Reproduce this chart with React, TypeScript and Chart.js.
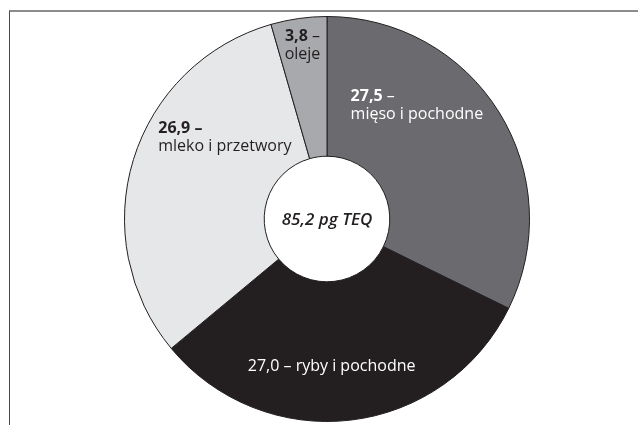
import React, { useEffect, useRef } from 'react';
import { Chart, registerables } from 'chart.js';

Chart.register(...registerables);

// ---- data ----
const categories = ['mięso i pochodne', 'ryby i pochodne', 'mleko i przetwory', 'oleje'];
const values = [27.5, 27.0, 26.9, 3.8];
const unit = 'pg TEQ';

// ---- styles ----
const sliceColors = ['#6b6b6f', '#231f20', '#e6e7e8', '#a7a9ac'];
const labelColors = ['#ffffff', '#ffffff', '#231f20', '#231f20'];
const FONT = "'Open Sans', 'Noto Sans', sans-serif";
const FONT_SIZE = 16;
const LINE_H = 18;

const fmt = (v: number) => v.toFixed(1).replace('.', ',');

type Seg = { t: string; b?: boolean };

// label layout relative to each slice's centre point
const labelLayout = [
  { dx: -89, dy: -52, align: 'left', style: 'twoLineNumDashRegular' },
  { dx: -11, dy: 16, align: 'center', style: 'oneLine' },
  { dx: -42, dy: -52, align: 'left', style: 'twoLineNumDashBold' },
  { dx: -6, dy: -51, align: 'center', style: 'twoLineNumDashRegular' },
];

function buildLines(i: number): Seg[][] {
  const num = fmt(values[i]);
  const name = categories[i];
  const st = labelLayout[i].style;
  if (st === 'oneLine') return [[{ t: `${num} – ${name}` }]];
  if (st === 'twoLineNumDashBold') return [[{ t: `${num} –`, b: true }], [{ t: name }]];
  return [[{ t: num, b: true }, { t: ' –' }], [{ t: name }]];
}

const fontOf = (b?: boolean) => `${b ? '700' : '400'} ${FONT_SIZE}px ${FONT}`;

const labelPlugin = {
  id: 'sliceLabels',
  afterDatasetsDraw(chart: any) {
    const ctx: CanvasRenderingContext2D = chart.ctx;
    const meta = chart.getDatasetMeta(0);
    ctx.save();
    ctx.textBaseline = 'middle';
    ctx.textAlign = 'left';
    meta.data.forEach((arc: any, i: number) => {
      const c = arc.getCenterPoint();
      const lay = labelLayout[i];
      const lines = buildLines(i);
      const ax = c.x + lay.dx;
      const ay = c.y + lay.dy;
      ctx.fillStyle = labelColors[i];
      lines.forEach((line, li) => {
        let w = 0;
        line.forEach((s) => {
          ctx.font = fontOf(s.b);
          w += ctx.measureText(s.t).width;
        });
        let x = lay.align === 'center' ? ax - w / 2 : ax;
        const y = ay + li * LINE_H;
        line.forEach((s) => {
          ctx.font = fontOf(s.b);
          ctx.fillText(s.t, x, y);
          x += ctx.measureText(s.t).width;
        });
      });
    });
    // centre total
    const arc0 = meta.data[0];
    const total = values.reduce((a, b) => a + b, 0);
    ctx.fillStyle = '#231f20';
    ctx.textAlign = 'center';
    ctx.font = `italic 600 17px ${FONT}`;
    ctx.fillText(`${fmt(total)} ${unit}`, arc0.x, arc0.y + 1);
    ctx.restore();
  },
};

export default function App() {
  const ref = useRef<HTMLCanvasElement | null>(null);
  useEffect(() => {
    if (!ref.current) return;
    const chart = new Chart(ref.current, {
      type: 'doughnut',
      data: {
        labels: categories,
        datasets: [
          {
            data: values,
            backgroundColor: sliceColors,
            borderColor: '#231f20',
            borderWidth: 1,
          },
        ],
      },
      options: {
        animation: false,
        responsive: false,
        maintainAspectRatio: false,
        cutout: '31%',
        rotation: 0,
        layout: { padding: { top: 15, bottom: 2, left: 124, right: 108 } },
        plugins: {
          legend: { display: false },
          tooltip: { enabled: false },
        },
      },
      plugins: [labelPlugin],
    });
    return () => chart.destroy();
  }, []);

  return (
    <div style={{ position: 'fixed', left: 0, top: 0, width: 638, height: 425, background: '#fff', overflow: 'hidden' }}>
      <div
        style={{
          position: 'absolute',
          left: 9,
          top: 10,
          right: 0,
          bottom: 0,
          borderTop: '2px solid #8c8c8c',
          borderLeft: '1px solid #4a4a4a',
        }}
      />
      <canvas ref={ref} width={638} height={425} style={{ position: 'absolute', left: 0, top: 0 }} />
    </div>
  );
}
